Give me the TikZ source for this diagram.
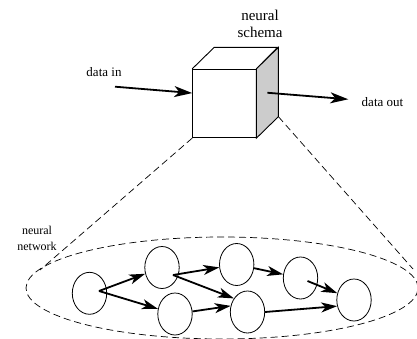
\documentclass[tikz,border=0pt]{standalone}
\usepackage{fontspec}
\setmainfont{Liberation Serif}
\usetikzlibrary{arrows.meta,shapes.geometric,calc}

\begin{document}
\begin{tikzpicture}[x=1pt, y=-1pt,
    neuron/.style={draw, ellipse, line width=0.8pt, inner sep=0pt,
        minimum width=34.4pt, minimum height=42pt},
    syn/.style={line width=1.8pt, -{Stealth[length=16pt, width=10pt, inset=4.5pt]}},
    flow/.style={line width=1.8pt, -{Stealth[length=18pt, width=11pt, inset=5pt]}},
    zoomline/.style={line width=0.7pt, dash pattern=on 7pt off 4pt}]
    \useasboundingbox (0, 0) rectangle (417, 339);

    % the network, seen close up
    \draw[zoomline] (222, 288) ellipse [x radius=196pt, y radius=51pt];
    \node[align=center, font=\fontsize{12}{15.5}\selectfont] (netlabel) at (37, 238.5) {neural \\ network};

    \node[neuron] (n1) at (89.5, 293.3) {};
    \node[neuron] (n2) at (162, 267.5) {};
    \node[neuron] (n3) at (175, 314) {};
    \node[neuron] (n4) at (236.7, 264.5) {};
    \node[neuron] (n5) at (247.5, 312) {};
    \node[neuron] (n6) at (300.5, 278) {};
    \node[neuron] (n7) at (354, 300) {};

    \draw[syn] ($(n1)+(9.5, -2.3)$) -- (n2);
    \draw[syn] ($(n1)+(9.5, -2.3)$) -- (n3);
    \draw[syn] ($(n2)+(11, 7.5)$) -- (n4);
    \draw[syn] ($(n2)+(11, 7.5)$) -- (n5.135);
    \draw[syn] (n3) -- (n5.160);
    \draw[syn] (n4) -- (n6);
    \draw[syn] ($(n6)+(7, 3)$) -- (n7);
    \draw[syn] (n5.east) -- (n7.200);

    % the cube
    \node[draw, line width=0.9pt, fill=white, inner sep=0pt,
        minimum width=63.3pt, minimum height=68.4pt] (schema) at (224.3, 103.5) {};
    \coordinate (bk) at ($(schema.south east)+(22, -21.5)$);
    \coordinate (side) at ($(schema.east)+(11, -10.75)$);
    \draw[line width=0.9pt] (schema.north west) -- ++(22, -21.5) -- ++(63.3, 0) -- (schema.north east);
    \draw[line width=0.9pt, fill=gray!40] (schema.north east) -- ++(22, -21.5) -- (bk) -- (schema.south east) -- cycle;
    \node[align=center, font=\fontsize{15}{16.5}\selectfont] (title) at (260, 24) {neural \\ schema};

    \coordinate (lt) at (40, 270);
    \coordinate (rt) at (413, 269);
    \draw[zoomline] (schema.south west) -- (lt);
    \draw[zoomline] (bk) -- (rt);

    % data in and out
    \coordinate (din) at (115, 86.7);
    \coordinate (dout) at (348.3, 99.3);
    \node[font=\fontsize{13}{15}\selectfont] (inlabel) at (104, 72) {data in};
    \node[font=\fontsize{13}{15}\selectfont] (outlabel) at (382.5, 102) {data out};
    \draw[flow] (din) -- (schema.162);
    \draw[flow] (side) -- (dout);
\end{tikzpicture}
\end{document}
